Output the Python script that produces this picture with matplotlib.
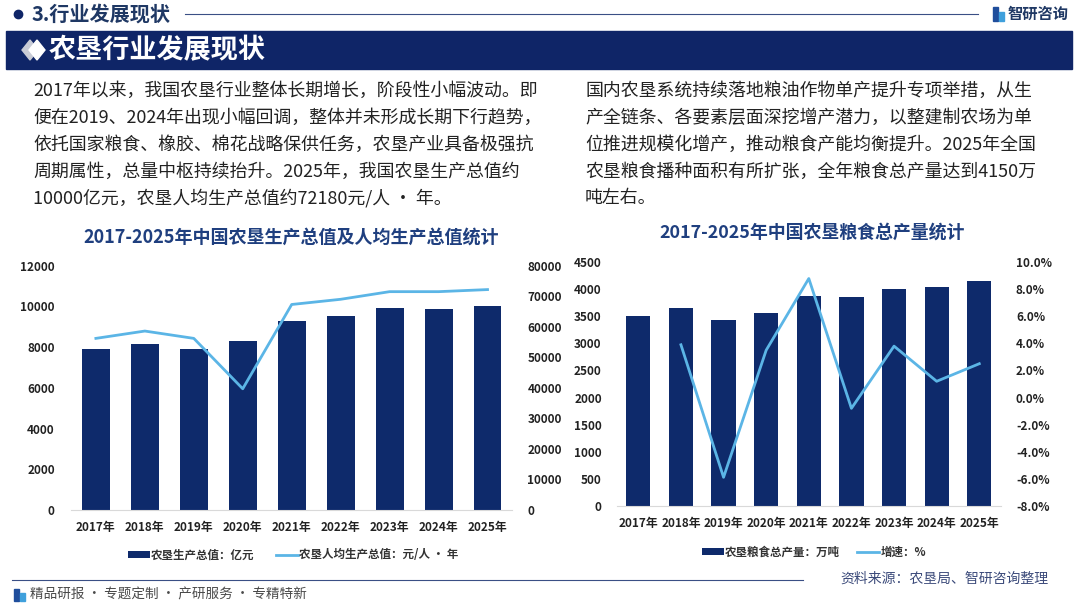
import matplotlib.pyplot as plt
from matplotlib.patches import Rectangle, Polygon
from matplotlib.ticker import FuncFormatter

plt.rcParams['font.family'] = ['Noto Sans CJK SC', 'DejaVu Sans']

years = ['2017年', '2018年', '2019年', '2020年', '2021年', '2022年', '2023年', '2024年', '2025年']
output_value = [7900, 8150, 7900, 8280, 9280, 9530, 9920, 9870, 10000]
per_capita = [56200, 58600, 56200, 39700, 67300, 69000, 71500, 71500, 72180]
grain = [3514, 3649, 3434, 3563, 3871, 3853, 4001, 4050, 4150]
growth = [3.9, -5.9, 3.5, 8.8, -0.8, 3.8, 1.2, 2.5]  # 2018-2025

left_text = [
    "2017年以来，我国农垦行业整体长期增长，阶段性小幅波动。即",
    "便在2019、2024年出现小幅回调，整体并未形成长期下行趋势，",
    "依托国家粮食、橡胶、棉花战略保供任务，农垦产业具备极强抗",
    "周期属性，总量中枢持续抬升。2025年，我国农垦生产总值约",
    "10000亿元，农垦人均生产总值约72180元/人 · 年。",
]
right_text = [
    "国内农垦系统持续落地粮油作物单产提升专项举措，从生",
    "产全链条、各要素层面深挖增产潜力，以整建制农场为单",
    "位推进规模化增产，推动粮食产能均衡提升。2025年全国",
    "农垦粮食播种面积有所扩张，全年粮食总产量达到4150万",
    "吨左右。",
]

NAVY = '#0f2567'
BAR = '#0e2a6b'
LINE = '#5bb5e6'
TITLE = '#1f3f7f'
W, H = 1080, 604

fig = plt.figure(figsize=(10.8, 6.04), dpi=100)

# background layer in pixel coordinates
bg = fig.add_axes([0, 0, 1, 1], zorder=0)
bg.set_xlim(0, W)
bg.set_ylim(H, 0)
bg.axis('off')

# header
bg.plot([18], [14], 'o', color=NAVY, ms=6)
bg.text(32, 14, '3.行业发展现状', fontsize=14.5, fontweight='bold', color='#1f3864', va='center')
bg.plot([185, 978], [14, 14], color='#3a4f85', lw=0.8)
bg.add_patch(Rectangle((993, 7), 5, 14, color='#1f4e9c'))
bg.add_patch(Rectangle((999, 12), 5, 9, color='#3fa0dc'))
bg.text(1008, 14, '智研咨询', fontsize=11, fontweight='bold', color='#1f3864', va='center')

# banner
bg.add_patch(Rectangle((6, 31), 1066, 38, color=NAVY))
bg.add_patch(Polygon([[30, 40], [38, 50], [30, 60], [22, 50]], closed=True, color='#c9ccd6'))
bg.add_patch(Polygon([[37, 40], [45, 50], [37, 60], [29, 50]], closed=True, color='white'))
bg.text(49, 50, '农垦行业发展现状', fontsize=19.5, fontweight='bold', color='white', va='center')

# paragraphs
for i, line in enumerate(left_text):
    bg.text(33, 91 + i * 26.8, line, fontsize=12.9, color='#222222', va='center')
for i, line in enumerate(right_text):
    bg.text(585, 91 + i * 26.8, line, fontsize=12.9, color='#222222', va='center')

# chart titles
bg.text(291, 237, '2017-2025年中国农垦生产总值及人均生产总值统计', fontsize=13,
        fontweight='bold', color=TITLE, ha='center', va='center')
bg.text(812, 233, '2017-2025年中国农垦粮食总产量统计', fontsize=12.9,
        fontweight='bold', color=TITLE, ha='center', va='center')

# footer
bg.plot([12, 803], [580, 580], color='#3a4f85', lw=0.8)
bg.add_patch(Rectangle((14, 589), 5, 12, color='#1f4e9c'))
bg.add_patch(Rectangle((20, 593), 5, 8, color='#3fa0dc'))
bg.text(30, 595, '精品研报 · 专题定制 · 产研服务 · 专精特新', fontsize=9.8, color='#4a4a4a', va='center')
bg.text(1048, 579, '资料来源：农垦局、智研咨询整理', fontsize=10, color='#3b4a7a', ha='right', va='center')

x = list(range(len(years)))


def style_axes(ax, ax2):
    for a in (ax, ax2):
        for s in a.spines.values():
            s.set_visible(False)
        a.tick_params(length=0, labelsize=8.5, colors='#222222')
        for lab in a.get_yticklabels() + a.get_xticklabels():
            lab.set_fontweight('bold')
    ax.spines['bottom'].set_visible(True)
    ax.spines['bottom'].set_color('#d9d9d9')
    ax.set_xlim(-0.5, len(years) - 0.5)


def add_legend(ax, handles, cx, cy, gap):
    leg = ax.legend(handles, [h.get_label() for h in handles], ncol=2, frameon=False,
                    loc='center', bbox_to_anchor=(cx / W, 1 - cy / H), bbox_transform=fig.transFigure,
                    prop={'size': 8.3, 'weight': 'bold'}, handlelength=1.9, handleheight=0.6,
                    handletextpad=0.1, columnspacing=gap)
    for t in leg.get_texts():
        t.set_color('#333333')


# left chart
ax1 = fig.add_axes([71.4 / W, 1 - 510 / H, (512 - 71.4) / W, (510 - 265.7) / H], zorder=2)
ax1.patch.set_alpha(0)
b1 = ax1.bar(x, output_value, width=0.57, color=BAR, label='农垦生产总值：亿元')
ax1.set_ylim(0, 12000)
ax1.set_yticks(range(0, 12001, 2000))
ax1.set_xticks(x)
ax1.set_xticklabels(years)
ax1b = ax1.twinx()
l1, = ax1b.plot(x, per_capita, color=LINE, lw=2.0, label='农垦人均生产总值：元/人 · 年')
ax1b.set_ylim(0, 80000)
ax1b.set_yticks(range(0, 80001, 10000))
style_axes(ax1, ax1b)
ax1.tick_params(axis='y', pad=12)
ax1.tick_params(axis='x', pad=8)
ax1b.tick_params(axis='y', pad=11)
add_legend(ax1, [b1, l1], 293, 555, 1.9)

# right chart
ax2 = fig.add_axes([617 / W, 1 - 505.7 / H, (1000.6 - 617) / W, (505.7 - 262.3) / H], zorder=2)
ax2.patch.set_alpha(0)
b2 = ax2.bar(x, grain, width=0.57, color=BAR, label='农垦粮食总产量：万吨')
ax2.set_ylim(0, 4500)
ax2.set_yticks(range(0, 4501, 500))
ax2.set_xticks(x)
ax2.set_xticklabels(years)
ax2b = ax2.twinx()
l2, = ax2b.plot(x[1:], growth, color=LINE, lw=2.0, label='增速：%')
ax2b.set_ylim(-8, 10)
ax2b.set_yticks(range(-8, 11, 2))
ax2b.yaxis.set_major_formatter(FuncFormatter(lambda v, p: '%.1f%%' % v))
style_axes(ax2, ax2b)
ax2.tick_params(axis='y', pad=11)
ax2.tick_params(axis='x', pad=8)
ax2b.tick_params(axis='y', pad=11)
add_legend(ax2, [b2, l2], 814, 552, 1.5)

fig.savefig('out.png', dpi=100)
